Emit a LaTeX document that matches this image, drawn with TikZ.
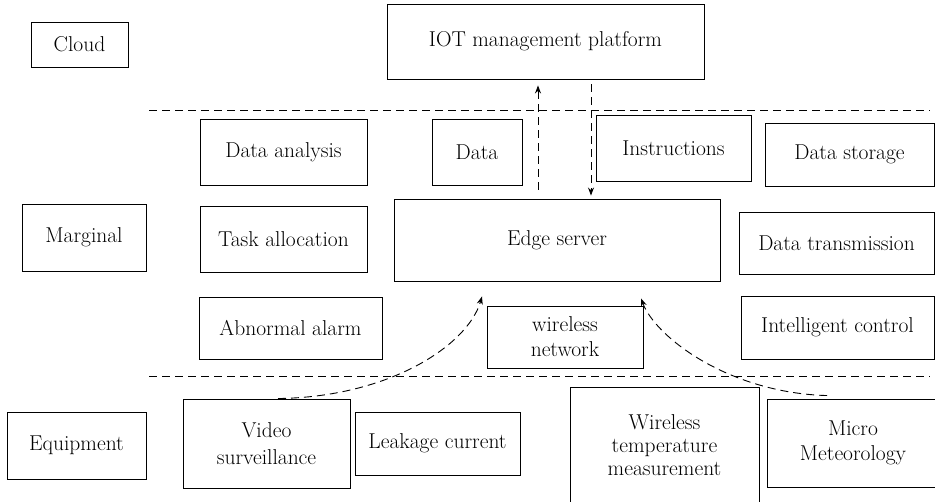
\documentclass[tikz,border=0pt]{standalone}
\usetikzlibrary{arrows.meta}
\begin{document}
\begin{tikzpicture}[x=1pt,y=-1pt,
  box/.style={draw, line width=0.9pt, inner sep=0pt, align=center, font=\rmfamily\fontsize{21.5}{25}\selectfont},
  sep/.style={line width=0.9pt, dash pattern=on 8pt off 5pt},
  flow/.style={line width=0.9pt, dash pattern=on 8pt off 5pt, -{Stealth[length=8pt,width=6pt]}}]
\useasboundingbox (0,0) rectangle (935,502);
\clip (0,0) rectangle (935,502);
% layer labels
\node[box, minimum width=97pt, minimum height=45pt] (cloud) at (79.5,44.5) {Cloud};
\node[box, minimum width=124pt, minimum height=67pt] (marg) at (84,237.5) {Marginal};
\node[box, minimum width=139pt, minimum height=67pt] (equip) at (76.5,445.5) {Equipment};
% cloud
\node[box, minimum width=317pt, minimum height=75pt] (iot) at (545.5,41.5) {IOT management platform};
% marginal
\node[box, minimum width=167pt, minimum height=66pt] (dana) at (283.5,152) {Data analysis};
\node[box, minimum width=90pt, minimum height=66pt] (data) at (477,152) {Data};
\node[box, minimum width=155pt, minimum height=66pt] (instr) at (673.5,148) {Instructions};
\node[box, minimum width=169pt, minimum height=63pt] (dstore) at (849.5,154.5) {Data storage};
\node[box, minimum width=167pt, minimum height=66pt] (task) at (283.5,239) {Task allocation};
\node[box, minimum width=326pt, minimum height=82pt] (edge) at (557,240) {Edge server};
\node[box, minimum width=195pt, minimum height=62pt] (dtrans) at (836.5,243) {Data transmission};
\node[box, minimum width=183pt, minimum height=62pt] (abn) at (290.5,328) {Abnormal alarm};
\node[box, minimum width=156pt, minimum height=62pt] (wnet) at (565,337) {wireless\\network};
\node[box, minimum width=193pt, minimum height=63pt] (intel) at (837.5,327.5) {Intelligent control};
% equipment
\node[box, minimum width=167pt, minimum height=89pt, font=\rmfamily\fontsize{21.5}{27}\selectfont] (video) at (266.5,443.5) {Video\\surveillance};
\node[box, minimum width=165pt, minimum height=63pt] (leak) at (437.5,443.5) {Leakage current};
\node[box, minimum width=189pt, minimum height=117pt, font=\rmfamily\fontsize{21.5}{23}\selectfont] (wtemp) at (664.5,445.5) {Wireless\\temperature\\measurement};
\node[box, minimum width=172pt, minimum height=88pt] (micro) at (853,443) {Micro\\Meteorology};
% separators
\coordinate (s1a) at (149,110); \coordinate (s1b) at (930,110);
\coordinate (s2a) at (149,376); \coordinate (s2b) at (930,376);
\draw[sep] (s1a) -- (s1b);
\draw[sep] (s2a) -- (s2b);
% connectors
\coordinate (ux) at (538,0);
\coordinate (dx) at (591,0);
\coordinate (lx) at (278,0);
\coordinate (lt) at (482,0);
\coordinate (rx) at (827,0);
\coordinate (rt) at (641,0);
\draw[flow] ([yshift=9pt]edge.north -| ux) -- ([yshift=-6pt]iot.south -| ux);
\draw[flow] ([yshift=-5pt]iot.south -| dx) -- ([yshift=3pt]edge.north -| dx);
\draw[flow] (video.north -| lx) .. controls (390,397) and (468,345) .. ([yshift=-15pt]edge.south -| lt);
\draw[flow] ([yshift=3pt]micro.north -| rx) .. controls (730,393) and (656,338) .. ([yshift=-17pt]edge.south -| rt);
\end{tikzpicture}
\end{document}
